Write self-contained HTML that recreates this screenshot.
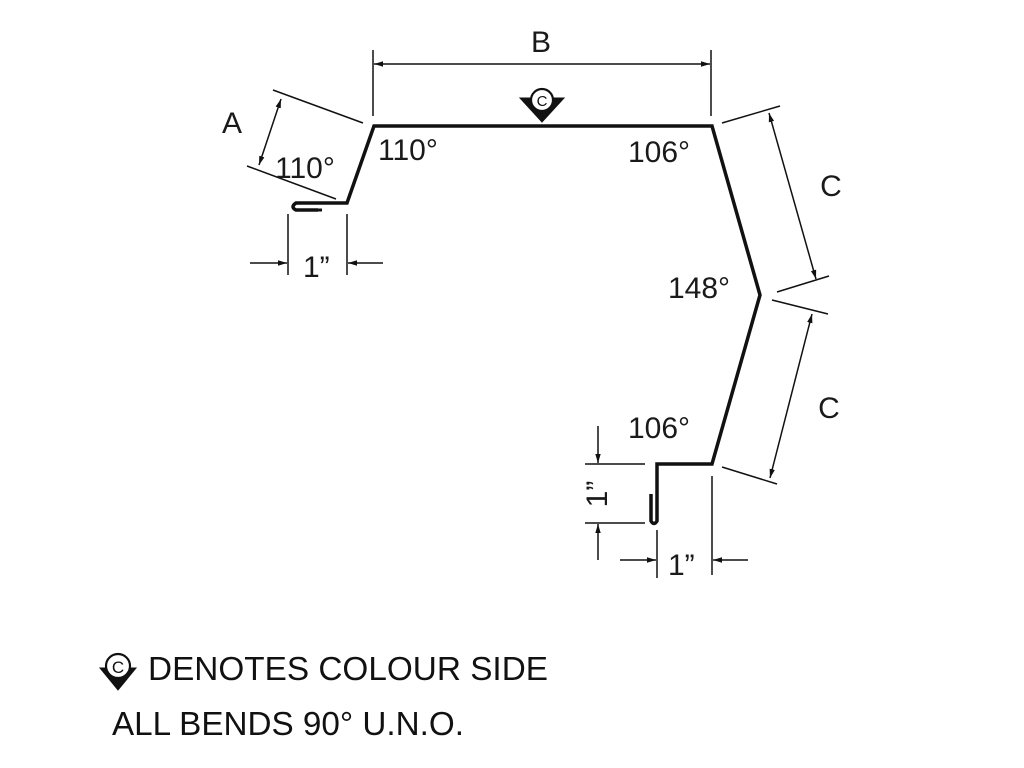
<!DOCTYPE html>
<html><head><meta charset="utf-8"><style>html,body{margin:0;padding:0;background:#fff}svg{display:block}</style></head>
<body>
<svg width="1024" height="768" viewBox="0 0 1024 768" xmlns="http://www.w3.org/2000/svg" font-family="Liberation Sans, sans-serif">
<defs>
<marker id="ar" viewBox="0 0 10 10" refX="10" refY="5" markerWidth="9" markerHeight="9" orient="auto-start-reverse" markerUnits="userSpaceOnUse"><path d="M0,2 L10,5 L0,8 z" fill="#111"/></marker>
</defs>
<g fill="none" stroke="#111" stroke-linejoin="miter">
<!-- main profile -->
<path d="M318,210 L296,210 Q290,207 296,203 L347,203 L374,126 L712,126 L760,295 L712,464 L657,464 L657,521 Q654,526 651,521 L651,494" stroke-width="3.5"/>
<path d="M300,210 L322,210" stroke-width="3"/>
<g stroke-width="1.5">
<!-- B -->
<line x1="373" y1="50" x2="373" y2="116"/>
<line x1="711" y1="50" x2="711" y2="116"/>
<line x1="374" y1="64" x2="710" y2="64" marker-start="url(#ar)" marker-end="url(#ar)"/>
<!-- A -->
<line x1="273" y1="90" x2="363" y2="123"/>
<line x1="247" y1="166" x2="336" y2="199"/>
<line x1="281" y1="99" x2="259" y2="165" marker-start="url(#ar)" marker-end="url(#ar)"/>
<!-- left 1" -->
<line x1="288" y1="214" x2="288" y2="275"/>
<line x1="347" y1="214" x2="347" y2="275"/>
<line x1="250" y1="263" x2="287" y2="263" marker-end="url(#ar)"/>
<line x1="383" y1="263" x2="348" y2="263" marker-end="url(#ar)"/>
<!-- C upper -->
<line x1="722" y1="123" x2="780" y2="106"/>
<line x1="777" y1="292" x2="829" y2="276"/>
<line x1="769" y1="113" x2="816" y2="279" marker-start="url(#ar)" marker-end="url(#ar)"/>
<!-- C lower -->
<line x1="772" y1="300" x2="828" y2="314"/>
<line x1="722" y1="467" x2="777" y2="484"/>
<line x1="812" y1="314" x2="770" y2="478" marker-start="url(#ar)" marker-end="url(#ar)"/>
<!-- right 1" horizontal -->
<line x1="657" y1="530" x2="657" y2="578"/>
<line x1="712" y1="476" x2="712" y2="575"/>
<line x1="620" y1="560" x2="656" y2="560" marker-end="url(#ar)"/>
<line x1="748" y1="560" x2="713" y2="560" marker-end="url(#ar)"/>
<!-- vertical 1" -->
<line x1="585" y1="464" x2="645" y2="464"/>
<line x1="585" y1="523" x2="645" y2="523"/>
<line x1="598" y1="426" x2="598" y2="463" marker-end="url(#ar)"/>
<line x1="598" y1="560" x2="598" y2="524" marker-end="url(#ar)"/>
</g>
</g>
<!-- colour side symbol top -->
<g stroke="#111" fill="none" stroke-width="2">
<path d="M520,98 L528,98 M556,98 L564,98 L542,122 L520,98 z" fill="#111" stroke-width="1"/>
<circle cx="542" cy="100" r="11" fill="#fff" stroke-width="2.2"/>
</g>
<text x="542" y="106" font-size="15" text-anchor="middle" fill="#111">C</text>
<g font-size="30" fill="#1a1a1a">
<text x="541" y="52" text-anchor="middle">B</text>
<text x="232" y="133" text-anchor="middle">A</text>
<text x="831" y="196" text-anchor="middle">C</text>
<text x="829" y="418" text-anchor="middle">C</text>
<text x="275" y="178">110°</text>
<text x="378" y="160">110°</text>
<text x="628" y="162">106°</text>
<text x="668" y="298">148°</text>
<text x="628" y="438">106°</text>
<text x="303" y="277">1”</text>
<text x="668" y="575">1”</text>
<text transform="translate(607,494) rotate(-90)" text-anchor="middle">1”</text>
</g>
<!-- legend -->
<g stroke="#111" fill="none">
<path d="M100,668 L136,668 L118,690 z" fill="#111" stroke-width="1"/>
<circle cx="118" cy="666" r="12" fill="#fff" stroke-width="2.2"/>
</g>
<text x="118" y="673" font-size="17" text-anchor="middle" fill="#111">C</text>
<text x="148" y="680" font-size="33" fill="#111" textLength="400" lengthAdjust="spacingAndGlyphs">DENOTES COLOUR SIDE</text>
<text x="112" y="735" font-size="33" fill="#111" textLength="352" lengthAdjust="spacingAndGlyphs">ALL BENDS 90° U.N.O.</text>
</svg>
</body></html>
